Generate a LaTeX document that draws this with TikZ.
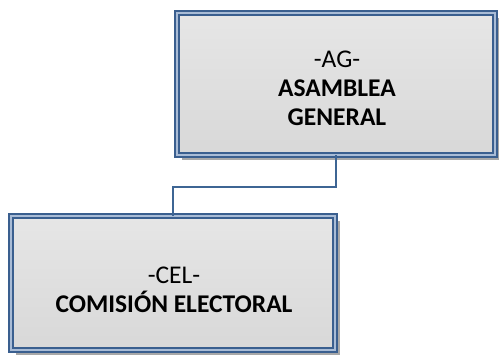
\documentclass[tikz,border=0pt]{standalone}
\usepackage{fontspec}
\setmainfont{Carlito}
\usetikzlibrary{shadows}
\definecolor{bordc}{HTML}{3A5F8F}
\definecolor{gapc}{HTML}{A9BCD6}
\definecolor{topf}{HTML}{E6E6E6}
\definecolor{botf}{HTML}{D8D8D8}
\definecolor{linkc}{HTML}{3E6594}
\definecolor{shadc}{HTML}{A8A8A8}
\tikzset{
  orgbox/.style={draw=bordc, line width=1.4pt, double=gapc, double distance=2.6pt,
    top color=topf, bottom color=botf, rectangle, outer sep=0pt, inner sep=0pt,
    align=center, font=\fontsize{25.5}{29}\selectfont,
    general shadow={fill=shadc, shadow xshift=5pt, shadow yshift=-5pt}},
  boxtext/.style={align=center, font=\fontsize{25.5}{29}\selectfont, inner sep=0pt},
  link/.style={draw=linkc, line width=2pt}
}
\begin{document}
\begin{tikzpicture}[x=1pt,y=-1pt]
\useasboundingbox (0,0) rectangle (499,356);
\node[orgbox, minimum width=318pt, minimum height=142pt] (ag) at (336,84) {};
\node[boxtext] (agt) at (337,88) {-AG-\\\textbf{ASAMBLEA}\\\textbf{GENERAL}};
\node[orgbox, minimum width=324pt, minimum height=134pt] (cel) at (173,283) {};
\node[boxtext] (celt) at (174,290) {-CEL-\\\textbf{COMISIÓN ELECTORAL}};
\coordinate (m) at (173,187);
\draw[link] (ag.south) |- (m) -- (cel.north);
\end{tikzpicture}
\end{document}
